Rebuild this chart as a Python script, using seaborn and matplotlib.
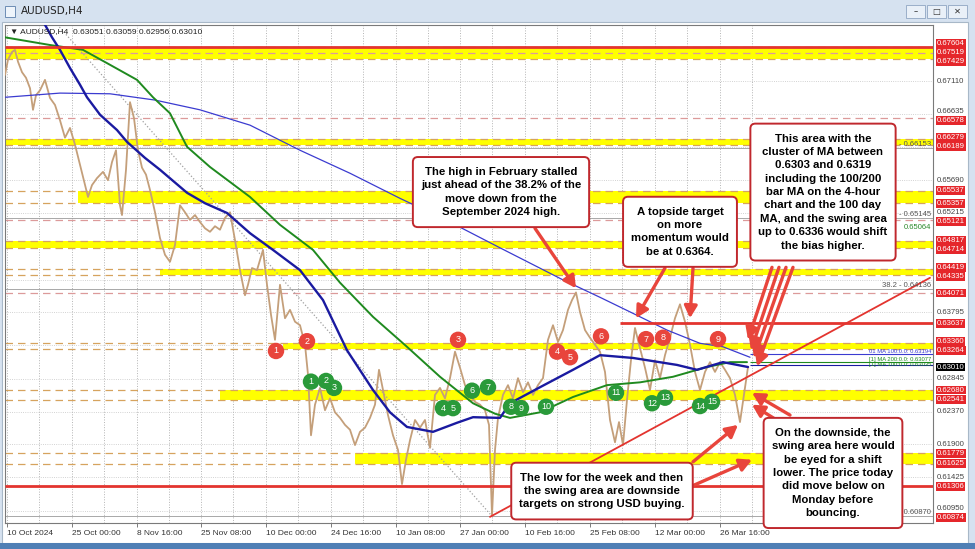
import matplotlib
matplotlib.use("Agg")
import matplotlib.pyplot as plt
import matplotlib.transforms as mtransforms
from matplotlib.patches import Rectangle, FancyBboxPatch
import seaborn as sns

sns.set_theme(style="white")
plt.rcParams['font.family'] = ['Liberation Sans', 'DejaVu Sans']

W, H = 975, 549

# ─── DATA ─────────────────────────────────────────────────────────────────────
# price path, x = 4h bar index
BAR = [0, 3, 7, 10, 13, 17, 21, 25, 28, 31,
       35, 40, 45, 50, 55, 60, 65, 70, 75, 80,
       83, 87, 92, 98, 103, 107, 111, 115, 117, 121,
       125, 129, 133, 137, 141, 145, 150, 155, 160, 165,
       170, 175, 180, 185, 190, 195, 200, 205, 210, 215,
       220, 225, 230, 235, 240, 243, 247, 252, 258, 262,
       266, 270, 275, 280, 285, 290, 295, 300, 303, 306,
       310, 315, 320, 325, 330, 335, 340, 345, 350, 355,
       360, 365, 370, 374, 379, 383, 388, 393, 397, 401,
       405, 410, 415, 420, 425, 430, 435, 440, 445, 450,
       455, 460, 465, 470, 475, 480, 484, 487, 490, 493,
       498, 503, 508, 513, 518, 523, 528, 533, 538, 543,
       548, 553, 558, 563, 567, 571, 575, 580, 585, 590,
       595, 600, 605, 610, 614, 618, 622, 626, 630, 635,
       640, 645, 650, 655, 660, 665, 670, 675, 680, 685,
       690, 695, 700, 705, 710, 715, 720, 725, 730, 735,
       739, 743]
CLOSE = [0.6720, 0.6742, 0.6753, 0.6756, 0.6739, 0.6724, 0.6716, 0.6701, 0.6670, 0.6691,
         0.6698, 0.6713, 0.6687, 0.6677, 0.6655, 0.6630, 0.6644, 0.6620, 0.6591, 0.6562,
         0.6545, 0.6562, 0.6572, 0.6581, 0.6569, 0.6595, 0.6612, 0.6533, 0.6519, 0.6584,
         0.6681, 0.6658, 0.6612, 0.6587, 0.6577, 0.6555, 0.6523, 0.6486, 0.6462, 0.6452,
         0.6476, 0.6533, 0.6523, 0.6512, 0.6519, 0.6509, 0.6500, 0.6495, 0.6503, 0.6498,
         0.6515, 0.6523, 0.6483, 0.6440, 0.6404, 0.6419, 0.6443, 0.6440, 0.6469, 0.6419,
         0.6376, 0.6340, 0.6419, 0.6371, 0.6383, 0.6366, 0.6361, 0.6333, 0.6290, 0.6203,
         0.6247, 0.6271, 0.6239, 0.6256, 0.6236, 0.6228, 0.6218, 0.6211, 0.6189, 0.6208,
         0.6214, 0.6228, 0.6247, 0.6297, 0.6261, 0.6232, 0.6203, 0.6182, 0.6133, 0.6168,
         0.6196, 0.6225, 0.6214, 0.6225, 0.6185, 0.6261, 0.6271, 0.6256, 0.6285, 0.6323,
         0.6300, 0.6275, 0.6261, 0.6251, 0.6247, 0.6239, 0.6218, 0.6088, 0.6182, 0.6228,
         0.6261, 0.6275, 0.6256, 0.6285, 0.6265, 0.6279, 0.6261, 0.6275, 0.6285, 0.6340,
         0.6361, 0.6337, 0.6354, 0.6383, 0.6397, 0.6408, 0.6380, 0.6354, 0.6343, 0.6333,
         0.6323, 0.6294, 0.6225, 0.6193, 0.6222, 0.6189, 0.6254, 0.6311, 0.6357, 0.6328,
         0.6300, 0.6268, 0.6311, 0.6285, 0.6318, 0.6343, 0.6371, 0.6391, 0.6366, 0.6333,
         0.6294, 0.6268, 0.6294, 0.6308, 0.6294, 0.6308, 0.6297, 0.6285, 0.6261, 0.6222,
         0.6261, 0.6301]

# 100-bar MA (4h)
MA100_BAR = [40, 47, 55, 65, 75, 82, 95, 112, 122, 140, 155, 182, 200, 222, 245, 268,
             295, 318, 342, 368, 385, 402, 428, 452, 468, 495, 505, 535, 568, 595, 628,
             672, 692, 718, 743]
MA100 = [0.6792, 0.6774, 0.6756, 0.6730, 0.6706, 0.6688, 0.6663, 0.6641, 0.6624, 0.6601,
         0.6584, 0.6551, 0.6536, 0.6522, 0.6493, 0.6469, 0.6440, 0.6397, 0.6325, 0.6268,
         0.6236, 0.6215, 0.6208, 0.6221, 0.6229, 0.6228, 0.6249, 0.6272, 0.6297, 0.6318,
         0.6314, 0.6304, 0.6297, 0.6308, 0.6301]
# 200-bar MA (4h)
MA200_BAR = [0, 45, 78, 102, 132, 148, 165, 182, 205, 245, 275, 308, 335, 368, 402,
             435, 468, 490, 505, 535, 568, 602, 635, 668, 702, 725, 742]
MA200 = [0.6774, 0.6763, 0.6756, 0.6737, 0.6713, 0.6688, 0.6665, 0.6617, 0.6588, 0.6545,
         0.6505, 0.6469, 0.6422, 0.6373, 0.6330, 0.6287, 0.6249, 0.6234, 0.6228, 0.6236,
         0.6258, 0.6275, 0.6279, 0.6287, 0.6301, 0.6308, 0.6308]
# 100-day MA
DMA_BAR = [0, 55, 105, 150, 195, 245, 295, 345, 395, 445, 495, 558, 595, 628, 662,
           695, 718, 745]
DMA = [0.6688, 0.6694, 0.6693, 0.6684, 0.6670, 0.6648, 0.6612, 0.6579, 0.6543, 0.6509,
       0.6472, 0.6426, 0.6401, 0.6378, 0.6354, 0.6335, 0.6330, 0.6315]

TICK_BAR = [2, 67, 132, 196, 261, 326, 391, 455, 520, 585, 650, 715]
TICK_LABEL = ['10 Oct 2024', '25 Oct 00:00', '8 Nov 16:00', '25 Nov 08:00',
              '10 Dec 00:00', '24 Dec 16:00', '10 Jan 08:00', '27 Jan 00:00',
              '10 Feb 16:00', '25 Feb 08:00', '12 Mar 00:00', '26 Mar 16:00']

GRID_LEVELS = [0.67110, 0.66635, 0.66160, 0.65690, 0.65215, 0.64740, 0.64265,
               0.63795, 0.63320, 0.62845, 0.62370, 0.61900, 0.61425, 0.60950]
GRID_LABELS = [0.67110, 0.66635, 0.65690, 0.65215, 0.63795, 0.62845, 0.62370,
               0.61900, 0.61425, 0.60950]

ZONE_LO = [0.67429, 0.66189, 0.65357, 0.64714, 0.64335, 0.63264, 0.62541, 0.61625]
ZONE_HI = [0.67604, 0.66279, 0.65537, 0.64817, 0.64419, 0.63360, 0.62680, 0.61779]
ZONE_START = [0, 0, 73, 0, 155, 278, 215, 350]
DASHED_ONLY = [0.67519, 0.66578, 0.65121, 0.64071]

RED_LABELS = [0.67604, 0.67519, 0.67429, 0.66578, 0.66279, 0.66189, 0.65537, 0.65357,
              0.65121, 0.64817, 0.64714, 0.64419, 0.64335, 0.64071, 0.63637, 0.63360,
              0.63264, 0.62680, 0.62541, 0.61779, 0.61625, 0.61306, 0.60874]
LAST_PRICE = 0.63010

SOLID_LEVELS = [0.67604, 0.63637, 0.61306]
SOLID_START = [0, 615, 0]

# fib retracement levels; the level names of three of them sit behind the notes
FIB_LEVELS = [0.66153, 0.65145, 0.64136, 0.60870]
FIB_TAGS = ['- 0.66153', '- 0.65145', '38.2 - 0.64136', '- 0.60870']
FIB_DIAG_BAR = [50, 487]
FIB_DIAG = [0.6796, 0.6087]
TREND_BAR = [485, 925]
TREND = [0.6086, 0.6429]

MA_LAST = [0.63194, 0.63077, 0.63035]
MA_LAST_TXT = ['01 MA 100:0.0: 0.63194', '[1] MA 200:0.0: 0.63077', '[1] MA 100:0.0: 0.63035']
MA_LAST_COL = ['#3b3bd0', '#1f8a1f', '#1a1aa0']

RED_NUM_BAR = [271, 302, 453, 552, 565, 596, 641, 658, 713]
RED_NUM = [0.6324, 0.6338, 0.6340, 0.6323, 0.6315, 0.6345, 0.6341, 0.6343, 0.6341]
GREEN_NUM_BAR = [306, 321, 329, 438, 448, 467, 483, 506, 516, 541, 611, 647, 660, 695, 707]
GREEN_NUM = [0.6280, 0.6281, 0.6271, 0.6242, 0.6242, 0.6267, 0.6272, 0.6244, 0.6242,
             0.6244, 0.6264, 0.6249, 0.6257, 0.6245, 0.6251]

NOTES = [
    "The high in February stalled\njust ahead of the 38.2% of the\nmove down from the\nSeptember 2024 high.",
    "A topside target\non more\nmomentum would\nbe at 0.6364.",
    "This area with the\ncluster of MA between\n0.6303 and 0.6319\nincluding the 100/200\nbar MA on the 4-hour\nchart and the 100 day\nMA, and the swing area\nup to 0.6336 would shift\nthe bias higher.",
    "On the downside, the\nswing area here would\nbe eyed for a shift\nlower. The price today\ndid move below on\nMonday before\nbouncing.",
    "The low for the week and then\nthe swing area are downside\ntargets on strong USD buying.",
]
NOTE_BAR = [496, 675, 818, 828, 597]
NOTE_Y = [0.6552, 0.6495, 0.6552, 0.6149, 0.6123]

ARROW_FROM = [(530, 0.6500), (660, 0.6443), (688, 0.6443),
              (767, 0.6444), (774, 0.6444), (781, 0.6444), (788, 0.6444),
              (785, 0.6232), (785, 0.6213), (688, 0.6165), (685, 0.6129)]
ARROW_TO = [(571, 0.6414), (631, 0.6371), (685, 0.6371),
            (743, 0.6340), (746, 0.6325), (749, 0.6314), (752, 0.6302),
            (747, 0.6264), (747, 0.6247), (733, 0.6218), (747, 0.6168)]


def fx(px):
    return px / W


def fy(py):
    return 1 - py / H


# ─── FIGURE / WINDOW CHROME ───────────────────────────────────────────────────
fig = plt.figure(figsize=(W / 100, H / 100), dpi=100, facecolor='#d6e2f0')
fig.patches.append(Rectangle((fx(2), fy(543)), fx(968) - fx(2), fy(22) - fy(543),
                             transform=fig.transFigure, fc='white', ec='#a8b8c8',
                             lw=0.8, zorder=-1))
fig.patches.append(Rectangle((0, 0), 1, fy(543), transform=fig.transFigure,
                             fc='#4f7fb5', ec='none', zorder=-1))
fig.patches.append(Rectangle((fx(5), fy(17)), fx(10), fy(6) - fy(17),
                             transform=fig.transFigure, fc='#eef4fb', ec='#6d8db5', lw=0.7))
fig.text(fx(21), fy(11), 'AUDUSD,H4', fontsize=7.5, color='#222222', va='center',
         family=['DejaVu Sans'])
for i, g in enumerate(['–', '□', '✕']):
    x0 = 906 + i * 21
    fig.patches.append(Rectangle((fx(x0), fy(18)), fx(19), fy(5) - fy(18),
                                 transform=fig.transFigure, fc='#e9f0f8', ec='#8fa6c2', lw=0.6))
    fig.text(fx(x0 + 9.5), fy(11.5), g, fontsize=6, ha='center', va='center',
             color='#333333', family=['DejaVu Sans'])

YMIN, YMAX = 0.60772, 0.67917
AX_H = 523 - 25
ax = fig.add_axes([fx(5), fy(523), (933 - 5) / W, AX_H / H])
ax.set_facecolor('white')
ax.set_xlim(0, 928)
ax.set_ylim(YMIN, YMAX)

# grid
ax.hlines(GRID_LEVELS, 0, 928, colors='#c4c4c4', linestyles=':', lw=0.6, zorder=0.5)
vgrid = TICK_BAR + [b + 32 for b in TICK_BAR]
ax.vlines(vgrid, YMIN, YMAX, colors='#b4b4b4', linestyles=':', lw=0.7, zorder=0.5)

# yellow swing zones
for lo, hi, s in zip(ZONE_LO, ZONE_HI, ZONE_START):
    ax.fill_between([s, 928], lo, hi, color='#ffff00', lw=0, zorder=1)
ax.hlines(ZONE_LO + ZONE_HI, 0, 928, colors='#d6a35e', linestyles=(0, (6, 4)), lw=0.9, zorder=2)
ax.hlines(DASHED_ONLY, 0, 928, colors='#dc9a9a', linestyles=(0, (6, 4)), lw=0.9, zorder=2)

# fib levels
ax.hlines(FIB_LEVELS, 0, 928, colors='#9a9a9a', lw=0.6, zorder=2)
ax.plot(FIB_DIAG_BAR, FIB_DIAG, color='#a0a0a0', ls=':', lw=0.9, zorder=2)

# price
sns.lineplot(x=BAR, y=CLOSE, ax=ax, color='#c49f7a', lw=1.3, estimator=None,
             sort=False, zorder=3)

# moving averages
sns.lineplot(x=DMA_BAR, y=DMA, ax=ax, color='#3b3bd0', lw=0.9, estimator=None, sort=False, zorder=4)
sns.lineplot(x=MA200_BAR, y=MA200, ax=ax, color='#1f8a1f', lw=1.4, estimator=None, sort=False, zorder=4)
sns.lineplot(x=MA100_BAR, y=MA100, ax=ax, color='#1a1aa0', lw=1.7, estimator=None, sort=False, zorder=4)
for lv, c in zip(MA_LAST, MA_LAST_COL):
    ax.hlines(lv, 745, 928, colors=c, lw=0.8, zorder=4)
ax.text(926, MA_LAST[0], MA_LAST_TXT[0], fontsize=4.2, color=MA_LAST_COL[0],
        ha='right', va='bottom', zorder=4)
ax.text(926, MA_LAST[1], MA_LAST_TXT[1] + '\n' + MA_LAST_TXT[2], fontsize=4.2,
        color=MA_LAST_COL[1], ha='right', va='center', linespacing=1.0, zorder=4)

# red lines
for lv, s in zip(SOLID_LEVELS, SOLID_START):
    ax.hlines(lv, s, 928, colors='#e3342f', lw=2.0, zorder=5)
ax.plot(TREND_BAR, TREND, color='#e3342f', lw=1.3, zorder=5)

# fib labels
for lv, tag in zip(FIB_LEVELS, FIB_TAGS):
    ax.text(926, lv, tag, fontsize=5.5, color='#555555', ha='right', va='bottom', zorder=5)
ax.text(926, 0.65064, '0.65064', fontsize=5.5, color='#2a8a2a', ha='right', va='top', zorder=5)

# numbered swing markers
ax.scatter(RED_NUM_BAR, RED_NUM, s=140, c='#e8453c', edgecolors='none', zorder=8)
ax.scatter(GREEN_NUM_BAR, GREEN_NUM, s=140, c='#2a9a3a', edgecolors='none', zorder=8)
for i, (b, p) in enumerate(zip(RED_NUM_BAR, RED_NUM)):
    ax.text(b, p, str(i + 1), fontsize=6.5, color='white', ha='center', va='center', zorder=9)
for i, (b, p) in enumerate(zip(GREEN_NUM_BAR, GREEN_NUM)):
    ax.text(b, p, str(i + 1), fontsize=6.5, color='white', ha='center', va='center', zorder=9)

# arrows
for tail, tip in zip(ARROW_FROM, ARROW_TO):
    ax.annotate('', xy=tip, xytext=tail, zorder=9,
                arrowprops=dict(arrowstyle='-|>,head_length=0.6,head_width=0.32',
                                color='#e8453c', lw=2.4, shrinkA=0, shrinkB=0))

# notes (text first, box drawn from its measured extent)
note_texts = []
for txt, b, p in zip(NOTES, NOTE_BAR, NOTE_Y):
    note_texts.append(ax.text(b, p, txt, fontsize=8.2, fontweight='bold', ha='center',
                              va='center', linespacing=1.42, color='black', zorder=11,
                              clip_on=False))

# header
ax.text(0.005, 0.993, '▼ AUDUSD,H4  0.63051 0.63059 0.62956 0.63010',
        transform=ax.transAxes, fontsize=6, color='#222222', va='top', ha='left',
        family=['Liberation Sans', 'DejaVu Sans'], zorder=6)

# right price scale, spread a little so tags don't sit on each other
tags = [(lv, 'grid') for lv in GRID_LABELS] + [(lv, 'red') for lv in RED_LABELS] + \
       [(LAST_PRICE, 'last')]
tags.sort(key=lambda t: -t[0])
ypx = [(lv - YMIN) / (YMAX - YMIN) * AX_H for lv, _ in tags]
GAP = 9.0
for _ in range(200):
    for i in range(len(ypx) - 1):
        d = ypx[i] - ypx[i + 1]
        if d < GAP:
            m = (GAP - d) / 2
            ypx[i] += m
            ypx[i + 1] -= m
trans = mtransforms.blended_transform_factory(ax.transAxes, ax.transData)
for (lv, kind), yp in zip(tags, ypx):
    yv = YMIN + yp / AX_H * (YMAX - YMIN)
    if kind == 'grid':
        ax.text(1.004, yv, f'{lv:.5f}', transform=trans, fontsize=5.6, color='#444444',
                va='center', ha='left', clip_on=False)
    else:
        fc = '#e5262b' if kind == 'red' else 'black'
        ax.text(1.004, yv, f'{lv:.5f}', transform=trans, fontsize=5.6, color='white',
                va='center', ha='left', clip_on=False, zorder=7,
                bbox=dict(boxstyle='square,pad=0.12', fc=fc, ec='none'))

# axes cosmetics
ax.set_xticks(TICK_BAR)
ax.set_xticklabels(TICK_LABEL, fontsize=6, color='#333333', ha='left')
ax.set_yticks([])
ax.tick_params(axis='x', bottom=True, length=3, width=0.6, pad=2, color='#666666')
ax.set_xlabel('')
ax.set_ylabel('')
for sp in ax.spines.values():
    sp.set_color('#7a7a7a')
    sp.set_linewidth(0.8)
    sp.set_visible(True)

fig.canvas.draw()
rend = fig.canvas.get_renderer()
PADX, PADY = 8, 10
for t in note_texts:
    bb = t.get_window_extent(rend)
    box = FancyBboxPatch((bb.x0 - PADX, bb.y0 - PADY), bb.width + 2 * PADX,
                         bb.height + 2 * PADY,
                         boxstyle='round,pad=0,rounding_size=5',
                         transform=mtransforms.IdentityTransform(),
                         fc='white', ec='#c0282d', lw=1.4, zorder=10, clip_on=False)
    ax.add_artist(box)

fig.savefig('out.png', dpi=100, facecolor=fig.get_facecolor())
